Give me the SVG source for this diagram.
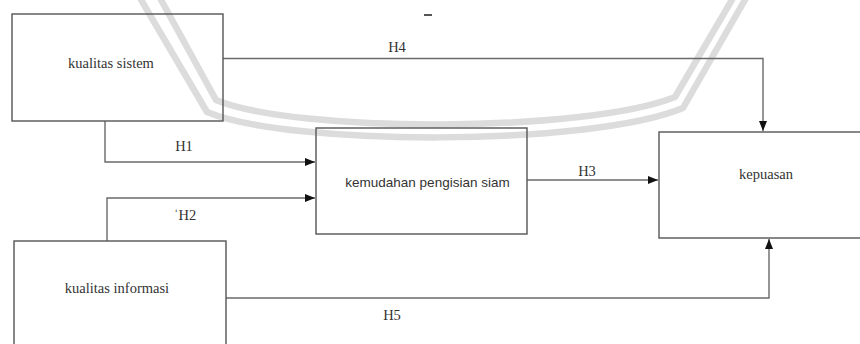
<svg xmlns="http://www.w3.org/2000/svg" width="860" height="344" viewBox="0 0 860 344">
  <style>
    .box { fill: none; stroke: #555; stroke-width: 1.4; }
    .wire { fill: none; stroke: #6a6a6a; stroke-width: 1.4; marker-end: url(#arrow); }
    .lbl { font-family: "Liberation Serif", "Times New Roman", serif; font-size: 14.5px; fill: #333; text-anchor: middle; }
    .lbl-sans { font-family: "Liberation Sans", Arial, sans-serif; font-size: 13.5px; fill: #333; text-anchor: middle; }
    .mark { fill: none; stroke: #dcdcdc; stroke-width: 6.5; stroke-linejoin: round; }
  </style>
  <defs>
    <marker id="arrow" markerUnits="userSpaceOnUse" markerWidth="11" markerHeight="9" refX="10" refY="4" orient="auto">
      <path d="M0,0 L10,4 L0,8 Z" fill="#111"/>
    </marker>
  </defs>

  <rect width="860" height="344" fill="#ffffff"/>

  <!-- faint emblem outline in the background -->
  <g id="emblem">
    <path class="mark" d="M140,-2 L207,112 C290,146.5 590,146.5 683,108 L746,-2"/>
    <path class="mark" d="M160,-2 L216,100 C295,133 585,133 675,97 L733,-2"/>
    <line x1="424" y1="15" x2="432" y2="15" stroke="#555" stroke-width="2"/>
  </g>

  <!-- connectors -->
  <g id="connectors">
    <polyline class="wire" points="223,58.5 763,58.5 763,131"/>
    <polyline class="wire" points="105,121 105,162 315,162"/>
    <polyline class="wire" points="107,241 107,198 315,198"/>
    <polyline class="wire" points="527,180 658,180"/>
    <polyline class="wire" points="226,298 769,298 769,239"/>
    <text class="lbl" x="397" y="52">H4</text>
    <text class="lbl" x="184" y="151">H1</text>
    <text class="lbl" x="185" y="220">ˈH2</text>
    <text class="lbl" x="587" y="176">H3</text>
    <text class="lbl" x="392" y="320">H5</text>
  </g>

  <g id="kualitas-sistem">
    <rect class="box" x="12" y="14" width="211" height="107"/>
    <text class="lbl" x="111" y="68">kualitas sistem</text>
  </g>

  <g id="kemudahan-pengisian-siam">
    <rect class="box" x="316" y="128" width="211" height="106"/>
    <text class="lbl-sans" x="427.5" y="187">kemudahan pengisian siam</text>
  </g>

  <g id="kualitas-informasi">
    <rect class="box" x="14" y="241" width="212" height="112"/>
    <text class="lbl" x="117" y="293">kualitas informasi</text>
  </g>

  <g id="kepuasan">
    <rect class="box" x="659" y="132" width="212" height="106"/>
    <text class="lbl" x="766" y="179">kepuasan</text>
  </g>
</svg>
